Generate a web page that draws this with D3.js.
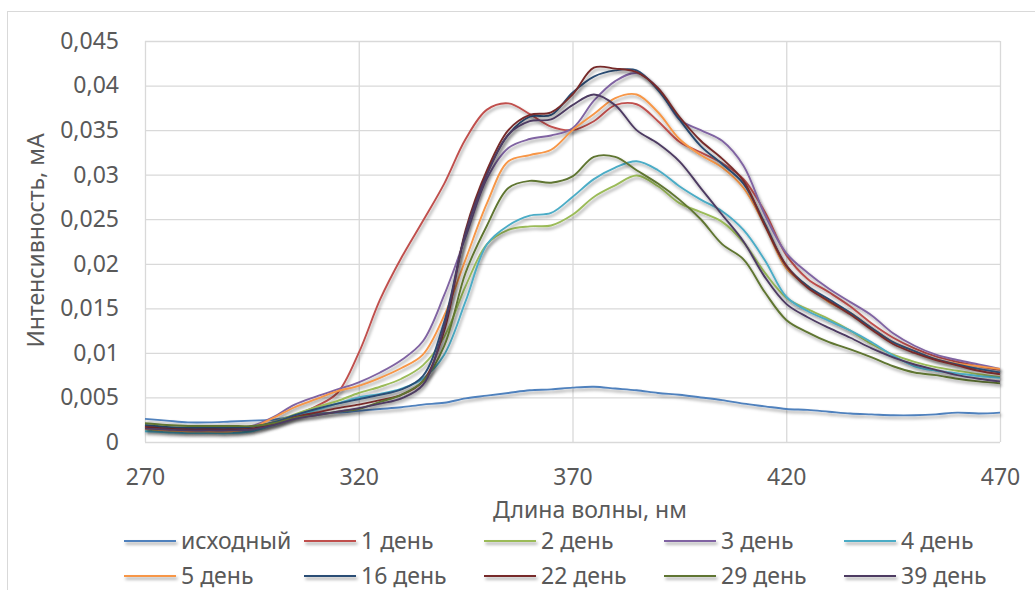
<!DOCTYPE html>
<html>
<head>
<meta charset="utf-8">
<script src="https://cdn.jsdelivr.net/npm/d3@7"></script>
<style>
  body { margin: 0; background: #fff; }
  text { font-family: 'Noto Sans', sans-serif; fill: #595959; }
</style>
</head>
<body>
<svg id="chart" width="1035" height="590"></svg>
<script>
// Wavelength grid, nm
const wavelengths = [270, 275, 280, 285, 290, 295, 300, 305, 310, 315, 320, 325, 330, 335, 340, 345, 350, 355, 360, 365,
  370, 375, 380, 385, 390, 395, 400, 405, 410, 415, 420, 425, 430, 435, 440, 445, 450, 455, 460, 465, 470];

// Intensity, mA, one array per sample
const initial = [0.0026, 0.0024, 0.0022, 0.0022, 0.0023, 0.0024, 0.0025, 0.0029, 0.0032, 0.0033, 0.0035, 0.0037, 0.0039, 0.0042, 0.0044, 0.0049, 0.0052, 0.0055, 0.0058, 0.0059,
  0.0061, 0.0062, 0.0060, 0.0058, 0.0055, 0.0053, 0.0050, 0.0047, 0.0043, 0.0040, 0.0037, 0.0036, 0.0034, 0.0032, 0.0031, 0.0030, 0.0030, 0.0031, 0.0033, 0.0032, 0.0033];
const day1 = [0.0018, 0.0016, 0.0015, 0.0015, 0.0015, 0.0016, 0.0022, 0.0030, 0.0040, 0.0055, 0.0100, 0.0160, 0.0207, 0.0248, 0.0290, 0.0340, 0.0373, 0.0380, 0.0368, 0.0354,
  0.0350, 0.0360, 0.0378, 0.0379, 0.0360, 0.0337, 0.0325, 0.0313, 0.0295, 0.0258, 0.0210, 0.0183, 0.0168, 0.0152, 0.0133, 0.0117, 0.0105, 0.0096, 0.0090, 0.0085, 0.0081];
const day2 = [0.0014, 0.0013, 0.0012, 0.0012, 0.0012, 0.0014, 0.0022, 0.0031, 0.0039, 0.0046, 0.0055, 0.0062, 0.0071, 0.0086, 0.0118, 0.0175, 0.0222, 0.0238, 0.0242, 0.0243,
  0.0255, 0.0275, 0.0288, 0.0299, 0.0287, 0.0268, 0.0258, 0.0247, 0.0224, 0.0190, 0.0162, 0.0149, 0.0138, 0.0125, 0.0110, 0.0098, 0.0090, 0.0084, 0.0080, 0.0076, 0.0073];
const day3 = [0.0017, 0.0016, 0.0015, 0.0015, 0.0015, 0.0018, 0.0028, 0.0042, 0.0051, 0.0059, 0.0067, 0.0078, 0.0092, 0.0113, 0.0165, 0.0230, 0.0296, 0.0330, 0.0340, 0.0344,
  0.0352, 0.0383, 0.0405, 0.0414, 0.0397, 0.0362, 0.0350, 0.0338, 0.0310, 0.0255, 0.0212, 0.0190, 0.0172, 0.0157, 0.0142, 0.0122, 0.0108, 0.0098, 0.0092, 0.0087, 0.0082];
const day4 = [0.0012, 0.0011, 0.0010, 0.0010, 0.0010, 0.0012, 0.0019, 0.0028, 0.0036, 0.0043, 0.0050, 0.0054, 0.0060, 0.0071, 0.0098, 0.0158, 0.0222, 0.0243, 0.0254, 0.0257,
  0.0275, 0.0295, 0.0308, 0.0315, 0.0305, 0.0287, 0.0272, 0.0259, 0.0238, 0.0204, 0.0163, 0.0147, 0.0136, 0.0125, 0.0112, 0.0097, 0.0085, 0.0080, 0.0077, 0.0074, 0.0072];
const day5 = [0.0015, 0.0013, 0.0012, 0.0012, 0.0012, 0.0016, 0.0027, 0.0039, 0.0048, 0.0057, 0.0063, 0.0072, 0.0083, 0.0098, 0.0142, 0.0205, 0.0268, 0.0315, 0.0322, 0.0328,
  0.0350, 0.0368, 0.0386, 0.0390, 0.0370, 0.0340, 0.0322, 0.0308, 0.0285, 0.0243, 0.0195, 0.0175, 0.0157, 0.0145, 0.0128, 0.0112, 0.0102, 0.0093, 0.0088, 0.0085, 0.0082];
const day16 = [0.0019, 0.0017, 0.0016, 0.0016, 0.0016, 0.0017, 0.0022, 0.0030, 0.0037, 0.0043, 0.0048, 0.0053, 0.0059, 0.0074, 0.0135, 0.0235, 0.0302, 0.0345, 0.0365, 0.0367,
  0.0392, 0.0410, 0.0417, 0.0417, 0.0395, 0.0362, 0.0332, 0.0312, 0.0290, 0.0245, 0.0198, 0.0175, 0.0160, 0.0145, 0.0128, 0.0112, 0.0102, 0.0093, 0.0087, 0.0082, 0.0078];
const day22 = [0.0017, 0.0015, 0.0014, 0.0014, 0.0014, 0.0015, 0.0020, 0.0028, 0.0033, 0.0038, 0.0042, 0.0047, 0.0053, 0.0068, 0.0125, 0.0238, 0.0305, 0.0350, 0.0367, 0.0370,
  0.0390, 0.0420, 0.0419, 0.0415, 0.0397, 0.0365, 0.0338, 0.0318, 0.0293, 0.0243, 0.0198, 0.0173, 0.0158, 0.0143, 0.0126, 0.0110, 0.0100, 0.0092, 0.0086, 0.0080, 0.0076];
const day29 = [0.0021, 0.0019, 0.0018, 0.0018, 0.0018, 0.0018, 0.0021, 0.0027, 0.0030, 0.0034, 0.0037, 0.0045, 0.0053, 0.0068, 0.0108, 0.0190, 0.0243, 0.0285, 0.0293, 0.0291,
  0.0298, 0.0320, 0.0320, 0.0305, 0.0290, 0.0272, 0.0250, 0.0222, 0.0205, 0.0168, 0.0137, 0.0123, 0.0112, 0.0104, 0.0095, 0.0085, 0.0078, 0.0075, 0.0071, 0.0068, 0.0066];
const day39 = [0.0015, 0.0014, 0.0013, 0.0013, 0.0013, 0.0014, 0.0019, 0.0026, 0.0030, 0.0034, 0.0038, 0.0043, 0.0049, 0.0064, 0.0130, 0.0235, 0.0300, 0.0345, 0.0360, 0.0362,
  0.0378, 0.0390, 0.0378, 0.0350, 0.0335, 0.0315, 0.0285, 0.0255, 0.0225, 0.0185, 0.0155, 0.0140, 0.0128, 0.0117, 0.0105, 0.0095, 0.0087, 0.0081, 0.0075, 0.0071, 0.0068];

const seriesNames = ["исходный", "1 день", "2 день", "3 день", "4 день", "5 день", "16 день", "22 день", "29 день", "39 день"];
const seriesValues = [initial, day1, day2, day3, day4, day5, day16, day22, day29, day39];
const seriesColors = ["#4F81BD", "#C0504D", "#9BBB59", "#8064A2", "#4BACC6", "#F79646", "#2C4D75", "#772C2A", "#5F7530", "#4D3B62"];

const xTicks = [270, 320, 370, 420, 470];
const yTicks = [0, 0.005, 0.01, 0.015, 0.02, 0.025, 0.03, 0.035, 0.04, 0.045];
const yTickLabels = ["0", "0,005", "0,01", "0,015", "0,02", "0,025", "0,03", "0,035", "0,04", "0,045"];

const xTitle = "Длина волны, нм";
const yTitle = "Интенсивность, мА";

const svg = d3.select("#chart");
const W = 1035, H = 590;
const plot = { left: 145, right: 1000, top: 41, bottom: 442 };
const gridColor = "#d9d9d9";
const fontSize = "23px";

// shadow under every series line; the region is generous and in user space
// so that flat legend lines inside translated groups keep the whole stroke
const defs = svg.append("defs");
const f = defs.append("filter").attr("id", "lineShadow")
  .attr("filterUnits", "userSpaceOnUse")
  .attr("x", -W).attr("y", -H).attr("width", 3 * W).attr("height", 3 * H);
f.append("feDropShadow").attr("dx", 1.5).attr("dy", 2.5).attr("stdDeviation", 1.6)
  .attr("flood-color", "#000").attr("flood-opacity", 0.38);

svg.append("rect").attr("width", W).attr("height", H).attr("fill", "#fff");
// chart frame
svg.append("rect").attr("x", 7.5).attr("y", 11.5).attr("width", 1200).attr("height", 800)
  .attr("fill", "none").attr("stroke", gridColor).attr("stroke-width", 1);

const x = d3.scaleLinear().domain([270, 470]).range([plot.left, plot.right]);
const y = d3.scaleLinear().domain([0, 0.045]).range([plot.bottom, plot.top]);

// y axis with horizontal gridlines
const yAxis = svg.append("g").attr("transform", `translate(${plot.left},0)`)
  .call(d3.axisLeft(y).tickValues(yTicks)
    .tickFormat((d, i) => yTickLabels[i])
    .tickSizeInner(-(plot.right - plot.left)).tickSizeOuter(0).tickPadding(26));
yAxis.select(".domain").remove();
yAxis.selectAll(".tick line").attr("stroke", gridColor).attr("stroke-width", 1.3);
yAxis.selectAll(".tick text").style("font-size", fontSize).attr("fill", "#595959");

// x axis with vertical gridlines
const xAxis = svg.append("g").attr("transform", `translate(0,${plot.bottom})`)
  .call(d3.axisBottom(x).tickValues(xTicks).tickFormat(d3.format("d"))
    .tickSizeInner(-(plot.bottom - plot.top)).tickSizeOuter(0).tickPadding(27));
xAxis.select(".domain").remove();
xAxis.selectAll(".tick line").attr("stroke", gridColor).attr("stroke-width", 1.3);
xAxis.selectAll(".tick text").style("font-size", fontSize).attr("fill", "#595959");

// axis titles
svg.append("text").attr("x", 590).attr("y", 510).attr("dy", "0.35em")
  .attr("text-anchor", "middle").style("font-size", fontSize).text(xTitle);
svg.append("text").attr("transform", `translate(36,${(plot.top + plot.bottom) / 2 - 1}) rotate(-90)`)
  .attr("dy", "0.35em").attr("text-anchor", "middle").style("font-size", fontSize).text(yTitle);

// series
const line = d3.line().x((d, i) => x(wavelengths[i])).y(d => y(d)).curve(d3.curveCatmullRom.alpha(0.5));
svg.append("g").attr("class", "series")
  .selectAll("path").data(seriesValues).join("path")
  .attr("d", d => line(d))
  .attr("fill", "none")
  .attr("stroke", (d, i) => seriesColors[i])
  .attr("stroke-width", 1.9)
  .attr("stroke-linejoin", "round")
  .attr("filter", "url(#lineShadow)");

// legend, two rows of five
const legend = svg.append("g").attr("class", "legend");
const item = legend.selectAll("g").data(seriesNames).join("g")
  .attr("transform", (d, i) => `translate(${124 + (i % 5) * 180},${i < 5 ? 541 : 576})`);
item.append("line").attr("x1", 0).attr("x2", 52).attr("y1", 0).attr("y2", 0)
  .attr("stroke", (d, i) => seriesColors[i]).attr("stroke-width", 1.9)
  .attr("filter", "url(#lineShadow)");
item.append("text").attr("x", 57).attr("dy", "0.35em").style("font-size", fontSize).text(d => d);
</script>
</body>
</html>
